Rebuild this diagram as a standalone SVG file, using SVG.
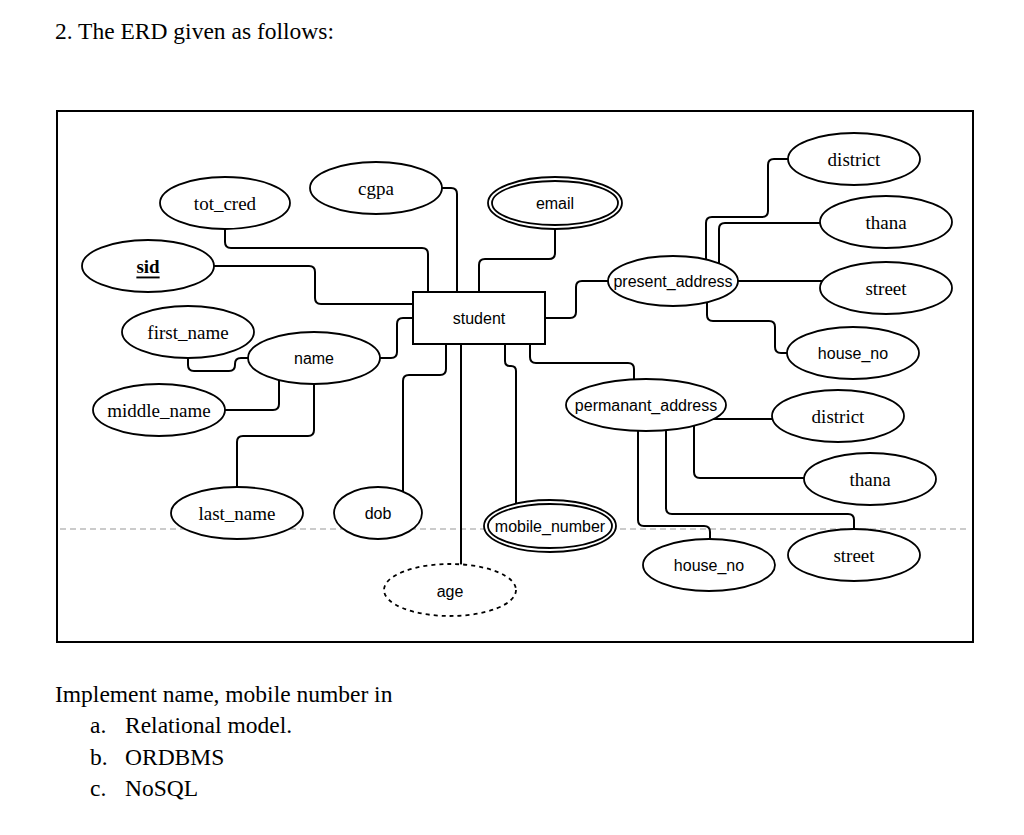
<svg xmlns="http://www.w3.org/2000/svg" width="1024" height="835" viewBox="0 0 1024 835">
<style>
.ell{fill:#fff;stroke:#000;stroke-width:1.8}
.dash{fill:#fff;stroke:#000;stroke-width:1.8;stroke-dasharray:4 4}
.con{fill:none;stroke:#000;stroke-width:2}
.serif{font-family:"Liberation Serif","Times New Roman",serif;font-size:19px;fill:#000}
.sans{font-family:"Liberation Sans",Arial,sans-serif;font-size:16px;fill:#000}
.doc{font-family:"Liberation Serif","Times New Roman",serif;font-size:23.5px;fill:#000}
</style>
<rect width="1024" height="835" fill="#fff"/>
<text class="doc" x="55" y="39">2. The ERD given as follows:</text>
<rect x="57" y="111" width="916" height="531" fill="none" stroke="#000" stroke-width="2"/>
<line x1="60" y1="529" x2="970" y2="529" stroke="#bbb" stroke-width="1.3" stroke-dasharray="6 4"/>
<g id="connectors">
<path class="con" d="M225,229 V242 Q225,248 231,248 H422 Q428,248 428,254 V292"/>
<path class="con" d="M442,188 H451 Q457,188 457,194 V292"/>
<path class="con" d="M214,266 H309 Q315,266 315,272 V298 Q315,304 321,304 H413"/>
<path class="con" d="M555,229 V253 Q555,259 549,259 H485 Q479,259 479,265 V292"/>
<path class="con" d="M380,358 H391 Q397,358 397,352 V324 Q397,318 403,318 H413"/>
<path class="con" d="M188,357 V365 Q188,371 194,371 H229 Q235,371 235,365 V364 Q235,358 241,358 H248"/>
<path class="con" d="M225,410 H273 Q279,410 279,404 V380"/>
<path class="con" d="M237,487 V442 Q237,436 243,436 H308 Q314,436 314,430 V384"/>
<path class="con" d="M403,492 V381 Q403,375 409,375 H440 Q446,375 446,369 V344"/>
<path class="con" d="M461,565 V344"/>
<path class="con" d="M505,344 V361 Q505,366 510,366 H511 Q516,366 516,371 V504"/>
<path class="con" d="M530,344 V357 Q530,363 536,363 H628 Q634,363 634,369 V380"/>
<path class="con" d="M545,318 H570 Q576,318 576,312 V287 Q576,281 582,281 H608"/>
<path class="con" d="M706,260 V223 Q706,217 712,217 H762 Q768,217 768,211 V165 Q768,159 774,159 H788"/>
<path class="con" d="M719,263 V229 Q719,223 725,223 H820"/>
<path class="con" d="M738,281 H822"/>
<path class="con" d="M707,302 V315 Q707,321 713,321 H769 Q775,321 775,327 V347 Q775,353 781,353 H788"/>
<path class="con" d="M713,419 H772"/>
<path class="con" d="M694,426 V472 Q694,478 700,478 H804"/>
<path class="con" d="M666,430 V508 Q666,514 672,514 H848 Q854,514 854,520 V529"/>
<path class="con" d="M638,431 V520 Q638,526 644,526 H704 Q710,526 710,532 V539"/>
</g>
<g id="student">
<rect x="413" y="292" width="132" height="52" fill="#fff" stroke="#000" stroke-width="2"/>
<text class="sans" x="479" y="318" text-anchor="middle" dominant-baseline="central">student</text>
</g>
<g id="tot_cred">
<ellipse class="ell" cx="225" cy="203" rx="65" ry="26"/>
<text class="serif" x="225" y="203" text-anchor="middle" dominant-baseline="central">tot_cred</text>
</g>
<g id="cgpa">
<ellipse class="ell" cx="376" cy="188" rx="66" ry="26"/>
<text class="serif" x="376" y="188" text-anchor="middle" dominant-baseline="central">cgpa</text>
</g>
<g id="sid">
<ellipse class="ell" cx="148" cy="266" rx="66" ry="26"/>
<text class="serif" x="148" y="266" text-anchor="middle" dominant-baseline="central" font-weight="bold" text-decoration="underline">sid</text>
</g>
<g id="email">
<ellipse class="ell" cx="555" cy="203" rx="67" ry="26"/>
<ellipse class="ell" cx="555" cy="203" rx="63" ry="22"/>
<text class="sans" x="555" y="203" text-anchor="middle" dominant-baseline="central">email</text>
</g>
<g id="first_name">
<ellipse class="ell" cx="188" cy="332" rx="66" ry="26"/>
<text class="serif" x="188" y="332" text-anchor="middle" dominant-baseline="central">first_name</text>
</g>
<g id="name">
<ellipse class="ell" cx="314" cy="358" rx="66" ry="26"/>
<text class="sans" x="314" y="358" text-anchor="middle" dominant-baseline="central">name</text>
</g>
<g id="middle_name">
<ellipse class="ell" cx="159" cy="410" rx="66" ry="26"/>
<text class="serif" x="159" y="410" text-anchor="middle" dominant-baseline="central">middle_name</text>
</g>
<g id="last_name">
<ellipse class="ell" cx="237" cy="513" rx="66" ry="26"/>
<text class="serif" x="237" y="513" text-anchor="middle" dominant-baseline="central">last_name</text>
</g>
<g id="dob">
<ellipse class="ell" cx="378" cy="513" rx="44" ry="26"/>
<text class="sans" x="378" y="513" text-anchor="middle" dominant-baseline="central">dob</text>
</g>
<g id="age">
<ellipse class="dash" cx="450" cy="590" rx="66" ry="26"/>
<text class="sans" x="450" y="591" text-anchor="middle" dominant-baseline="central">age</text>
</g>
<g id="mobile_number">
<ellipse class="ell" cx="550" cy="526" rx="66" ry="26"/>
<ellipse class="ell" cx="550" cy="526" rx="62" ry="22"/>
<text class="sans" x="550" y="526" text-anchor="middle" dominant-baseline="central">mobile_number</text>
</g>
<g id="present_address">
<ellipse class="ell" cx="673" cy="281" rx="65" ry="25"/>
<text class="sans" x="673" y="281" text-anchor="middle" dominant-baseline="central">present_address</text>
</g>
<g id="present_district">
<ellipse class="ell" cx="854" cy="159" rx="66" ry="26"/>
<text class="serif" x="854" y="159" text-anchor="middle" dominant-baseline="central">district</text>
</g>
<g id="present_thana">
<ellipse class="ell" cx="886" cy="222" rx="66" ry="26"/>
<text class="serif" x="886" y="222" text-anchor="middle" dominant-baseline="central">thana</text>
</g>
<g id="present_street">
<ellipse class="ell" cx="886" cy="288" rx="66" ry="26"/>
<text class="serif" x="886" y="288" text-anchor="middle" dominant-baseline="central">street</text>
</g>
<g id="present_house_no">
<ellipse class="ell" cx="853" cy="353" rx="66" ry="26"/>
<text class="sans" x="853" y="353" text-anchor="middle" dominant-baseline="central">house_no</text>
</g>
<g id="permanant_address">
<ellipse class="ell" cx="646" cy="405" rx="80" ry="26"/>
<text class="sans" x="646" y="405" text-anchor="middle" dominant-baseline="central">permanant_address</text>
</g>
<g id="perm_district">
<ellipse class="ell" cx="838" cy="416" rx="66" ry="26"/>
<text class="serif" x="838" y="416" text-anchor="middle" dominant-baseline="central">district</text>
</g>
<g id="perm_thana">
<ellipse class="ell" cx="870" cy="479" rx="66" ry="26"/>
<text class="serif" x="870" y="479" text-anchor="middle" dominant-baseline="central">thana</text>
</g>
<g id="perm_street">
<ellipse class="ell" cx="854" cy="555" rx="66" ry="26"/>
<text class="serif" x="854" y="555" text-anchor="middle" dominant-baseline="central">street</text>
</g>
<g id="perm_house_no">
<ellipse class="ell" cx="709" cy="565" rx="66" ry="26"/>
<text class="sans" x="709" y="565" text-anchor="middle" dominant-baseline="central">house_no</text>
</g>
<text class="doc" x="55" y="702">Implement name, mobile number in</text>
<text class="doc" x="90" y="733">a.</text>
<text class="doc" x="125" y="733">Relational model.</text>
<text class="doc" x="90" y="765">b.</text>
<text class="doc" x="125" y="765">ORDBMS</text>
<text class="doc" x="90" y="796">c.</text>
<text class="doc" x="125" y="796">NoSQL</text>
</svg>
